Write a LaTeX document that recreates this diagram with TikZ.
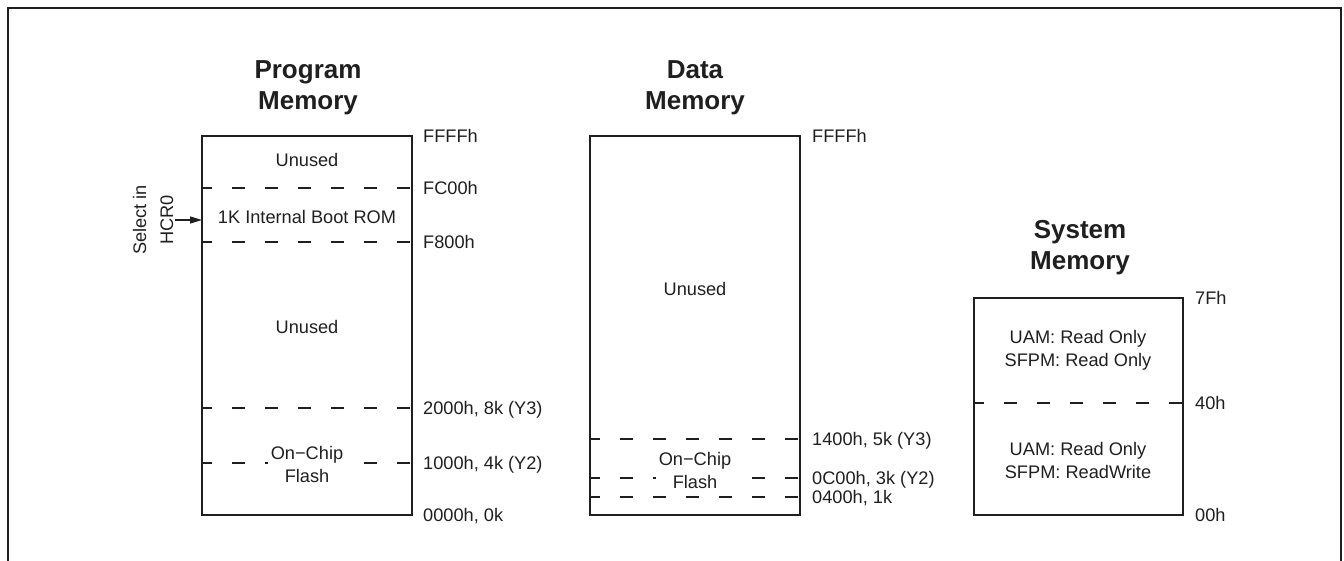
\documentclass[tikz,border=0pt]{standalone}
\usepackage{fontspec}
\setmainfont{Liberation Sans}
\usetikzlibrary{arrows.meta}
\begin{document}
\begin{tikzpicture}[x=1pt,y=-1pt,
  every node/.style={text=black!88},
  membox/.style={draw=black!88, line width=2pt, inner sep=0pt, outer sep=0pt},
  divider/.style={draw=black!88, line width=2pt, dash pattern=on 13pt off 20pt, dash phase=3pt},
  body/.style={font=\fontsize{18.2}{23}\selectfont, align=center},
  region/.style={body, inner sep=3pt},
  cut/.style={region, fill=white},
  addr/.style={anchor=base west, inner sep=0pt, yshift=-6.4pt, font=\fontsize{18.2}{22}\selectfont},
  title/.style={anchor=base, align=center, inner sep=0pt, font=\fontsize{26}{31}\selectfont\bfseries},
  frame/.style={draw=black!88, line width=2.5pt}
]
\useasboundingbox (0,0) rectangle (1344,561);
% outer frame (open at the bottom)
\coordinate (fbl) at (8,561);
\coordinate (ftl) at (8,8);
\coordinate (ftr) at (1341,8);
\coordinate (fbr) at (1341,561);
\draw[frame] (fbl) -- (ftl) -- (ftr) -- (fbr);

% ---------------- Program memory ----------------
\node[title] (pmt) at (308,110) {Program\\Memory};
\node[membox, minimum width=210pt, minimum height=379pt] (pm) at (307,325.5) {};
\draw[divider] (202,188) -- (412,188);
\draw[divider] (202,242) -- (412,242);
\draw[divider] (202,408) -- (412,408);
\draw[divider] (202,463) -- (412,463);
\node[region] (pm1) at (307,160) {Unused};
\node[region] (pm2) at (307,217) {1K Internal Boot ROM};
\node[region] (pm3) at (307,327) {Unused};
\node[cut] (pm4) at (307,464) {On−Chip\\Flash};
\node[addr] (pa1) at (423,136) {FFFFh};
\node[addr] (pa2) at (423,188) {FC00h};
\node[addr] (pa3) at (423,242) {F800h};
\node[addr] (pa4) at (423,408) {2000h, 8k (Y3)};
\node[addr] (pa5) at (423,463) {1000h, 4k (Y2)};
\node[addr] (pa6) at (423,515) {0000h, 0k};
\node[rotate=90, body, font=\fontsize{18.2}{27}\selectfont, inner sep=2pt] (sel) at (153,220) {Select in\\HCR0};
\draw[line width=1.3pt, draw=black!88, -{Triangle[length=12pt,width=7pt]}] (sel.south) -- (sel.south -| pm.west);

% ---------------- Data memory ----------------
\node[title] (dmt) at (695,110) {Data\\Memory};
\node[membox, minimum width=210pt, minimum height=379pt] (dm) at (695,325.5) {};
\draw[divider] (590,439) -- (800,439);
\draw[divider] (590,478) -- (800,478);
\draw[divider] (590,497) -- (800,497);
\node[region] (dm1) at (695,289) {Unused};
\node[cut] (dm2) at (695,470) {On−Chip\\Flash};
\node[addr] (da1) at (812,136) {FFFFh};
\node[addr] (da2) at (812,439) {1400h, 5k (Y3)};
\node[addr] (da3) at (812,478) {0C00h, 3k (Y2)};
\node[addr] (da4) at (812,497) {0400h, 1k};

% ---------------- System memory ----------------
\node[title] (smt) at (1080,270) {System\\Memory};
\node[membox, minimum width=209pt, minimum height=217pt] (sm) at (1078.5,406.5) {};
\draw[divider] (974,403) -- (1183,403);
\node[region] (sm1) at (1078,350) {UAM: Read Only\\SFPM: Read Only};
\node[region] (sm2) at (1078,460) {UAM: Read Only\\SFPM: ReadWrite};
\node[addr] (sa1) at (1195,298) {7Fh};
\node[addr] (sa2) at (1195,403) {40h};
\node[addr] (sa3) at (1195,515) {00h};
\end{tikzpicture}
\end{document}
